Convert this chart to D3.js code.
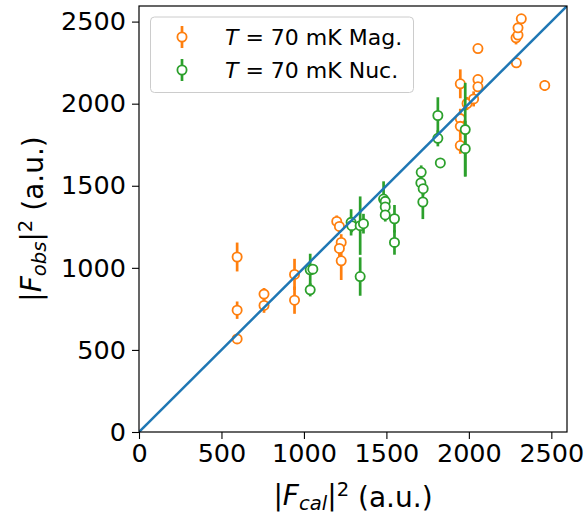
<!DOCTYPE html>
<html><head><meta charset="utf-8">
<script src="https://cdn.jsdelivr.net/npm/d3@7"></script>
<style>body{margin:0;background:#fff}svg{display:block;font-family:"DejaVu Sans",sans-serif}</style>
</head><body><svg id="c" width="585" height="518"></svg>
<script>
// Magnetic (orange) series: calculated, observed, error
const magCal = [595,595,595,758,758,943,943,1199,1215,1226,1215,1226,1948,1948,1948,1948,1989,2029,2055,2055,2055,2288,2286,2298,2298,2318,2460];
const magObs = [567,742,1066,840,771,960,803,1283,1252,1155,1118,1043,2121,1909,1862,1745,2001,2029,2147,2103,2336,2249,2401,2418,2462,2517,2111];
const magErr = [20,53,88,37,45,95,83,36,40,50,50,117,88,60,70,50,40,46,30,30,20,20,40,20,20,20,33];
// Nuclear (green) series
const nucCal = [1038,1054,1038,1286,1290,1341,1361,1341,1483,1493,1493,1493,1549,1549,1711,1709,1723,1721,1827,1812,1812,1978,1978];
const nucObs = [988,992,866,1277,1257,1257,1269,947,1419,1405,1371,1322,1299,1155,1582,1517,1482,1401,1639,1928,1789,1842,1726];
const nucErr = [98,30,40,80,40,178,60,117,108,40,40,40,84,75,42,40,40,104,10,111,49,285,170];
const ticks = [0,500,1000,1500,2000,2500];
const lim = [0,2595];

const svg = d3.select("#c");
const L=139,R=567,T=6,B=432;
const x = d3.scaleLinear().domain(lim).range([L,R]);
const y = d3.scaleLinear().domain(lim).range([B,T]);
const ORANGE="#ff7f0e", GREEN="#2ca02c", BLUE="#1f77b4";

svg.append("clipPath").attr("id","clip").append("rect").attr("x",L).attr("y",T).attr("width",R-L).attr("height",B-T);
const g = svg.append("g").attr("clip-path","url(#clip)");

function series(cal,obs,err,color){
  const data = cal.map((c,i)=>({c,o:obs[i],e:err[i]}));
  const s = g.append("g");
  s.selectAll("line").data(data).join("line")
    .attr("x1",d=>x(d.c)).attr("x2",d=>x(d.c))
    .attr("y1",d=>y(d.o-d.e)).attr("y2",d=>y(d.o+d.e))
    .attr("stroke",color).attr("stroke-width",2.7);
  s.selectAll("circle").data(data).join("circle")
    .attr("cx",d=>x(d.c)).attr("cy",d=>y(d.o)).attr("r",4.6)
    .attr("fill","#fff").attr("stroke",color).attr("stroke-width",1.8);
}
series(magCal,magObs,magErr,ORANGE);
series(nucCal,nucObs,nucErr,GREEN);
g.append("line").attr("x1",x(0)).attr("y1",y(0)).attr("x2",x(lim[1])).attr("y2",y(lim[1]))
  .attr("stroke",BLUE).attr("stroke-width",2.5);

// axes
const xa = svg.append("g").attr("transform",`translate(0,${B})`)
  .call(d3.axisBottom(x).tickValues(ticks).tickSize(7).tickPadding(5).tickFormat(d3.format("d")));
const ya = svg.append("g").attr("transform",`translate(${L},0)`)
  .call(d3.axisLeft(y).tickValues(ticks).tickSize(7).tickPadding(6).tickFormat(d3.format("d")));
[xa,ya].forEach(a=>{a.select(".domain").remove();
  a.selectAll("line").attr("stroke","#000").attr("stroke-width",1.1);
  a.selectAll("text").attr("font-size",25.5).attr("fill","#000").attr("font-family","DejaVu Sans");});
svg.append("rect").attr("x",L).attr("y",T).attr("width",R-L).attr("height",B-T)
  .attr("fill","none").attr("stroke","#000").attr("stroke-width",1.2);

// axis labels
function label(sel,sub){
  sel.append("tspan").text("|");
  sel.append("tspan").attr("font-style","italic").text("F");
  sel.append("tspan").attr("font-style","italic").attr("font-size","0.7em").attr("dy","0.25em").text(sub);
  sel.append("tspan").attr("dy","-0.18em").text("|");
  sel.append("tspan").attr("font-size","0.7em").attr("dy","-0.45em").text("2");
  sel.append("tspan").attr("dy","0.38em").text(" (a.u.)");
}
const xl = svg.append("text").attr("x",(L+R)/2).attr("y",505).attr("text-anchor","middle").attr("font-size",28);
label(xl,"cal");
const yl = svg.append("text").attr("transform",`translate(41,${(T+B)/2}) rotate(-90)`).attr("text-anchor","middle").attr("font-size",28);
label(yl,"obs");

// legend
const lg = svg.append("g");
lg.append("rect").attr("x",150.5).attr("y",17).attr("width",263).attr("height",75.5).attr("rx",4)
  .attr("fill","#fff").attr("fill-opacity",0.8).attr("stroke","#cccccc").attr("stroke-width",1);
const entries = [{c:ORANGE,t:"Mag.",yy:37},{c:GREEN,t:"Nuc.",yy:70}];
entries.forEach(e=>{
  lg.append("line").attr("x1",182).attr("x2",182).attr("y1",e.yy-11).attr("y2",e.yy+11).attr("stroke",e.c).attr("stroke-width",2.7);
  lg.append("circle").attr("cx",182).attr("cy",e.yy).attr("r",4.6).attr("fill","#fff").attr("stroke",e.c).attr("stroke-width",1.8);
  const t = lg.append("text").attr("x",225).attr("y",e.yy+7.8).attr("font-size",22);
  t.append("tspan").attr("font-style","italic").text("T");
  t.append("tspan").text(" = 70 mK " + e.t);
});
</script></body></html>
